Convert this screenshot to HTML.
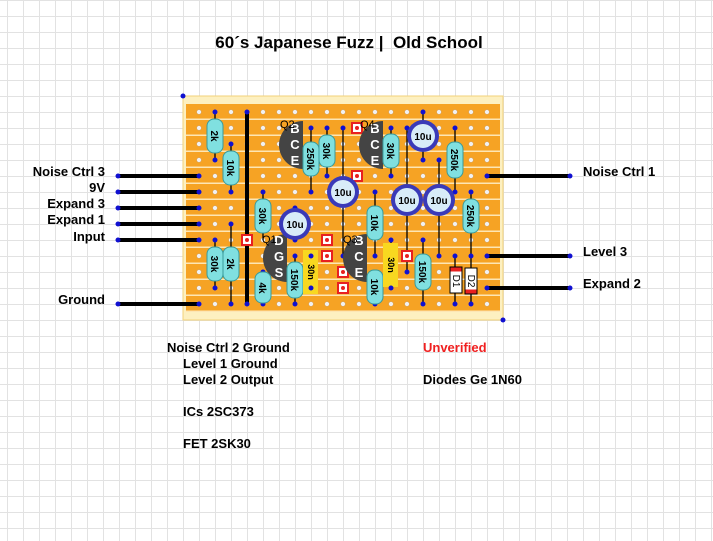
<!DOCTYPE html>
<html><head><meta charset="utf-8">
<style>
html,body{margin:0;padding:0;}
body{width:713px;height:541px;overflow:hidden;background-color:#fff;
background-image:linear-gradient(to right,#e2e2e2 1px,transparent 1px),linear-gradient(to bottom,#e2e2e2 1px,transparent 1px);
background-size:16px 16px;background-position:7px 0,0 0;font-family:"Liberation Sans",Arial,sans-serif;}
svg{position:absolute;left:0;top:0;}
</style></head><body>
<svg width="713" height="541" viewBox="0 0 713 541" xmlns="http://www.w3.org/2000/svg" font-family="Liberation Sans, Arial, sans-serif">
<defs>
<pattern id="strip" x="0" y="104" width="16" height="16" patternUnits="userSpaceOnUse">
<rect width="16" height="16" fill="#f6a324"/><rect y="14.5" width="16" height="2" fill="#fde6b4"/>
</pattern>
<pattern id="holes" x="191" y="104" width="16" height="16" patternUnits="userSpaceOnUse">
<circle cx="8" cy="8" r="2.3" fill="#f2f2f2" stroke="#c9a070" stroke-width="0.5"/>
</pattern>
</defs>
<text x="349" y="48" font-size="17" font-weight="bold" text-anchor="middle">60´s Japanese Fuzz |&#160; Old School</text>
<!-- board -->
<rect x="183" y="96" width="320" height="224" fill="#fdf0c0" stroke="#f2d27a" stroke-width="1"/>
<rect x="186" y="104" width="314" height="208" fill="url(#strip)"/>
<rect x="191" y="104" width="304" height="208" fill="url(#holes)"/>
<circle cx="183" cy="96" r="2.5" fill="#1010d0"/><circle cx="503" cy="320" r="2.5" fill="#1010d0"/>

<g font-size="13" font-weight="bold" fill="#000">
<text x="105" y="176" text-anchor="end">Noise Ctrl 3</text>
<text x="105" y="192" text-anchor="end">9V</text>
<text x="105" y="208" text-anchor="end">Expand 3</text>
<text x="105" y="224" text-anchor="end">Expand 1</text>
<text x="105" y="241" text-anchor="end">Input</text>
<text x="105" y="304" text-anchor="end">Ground</text>
<text x="583" y="176">Noise Ctrl 1</text>
<text x="583" y="256">Level 3</text>
<text x="583" y="288">Expand 2</text>
<text x="167" y="352">Noise Ctrl 2 Ground</text>
<text x="183" y="368">Level 1 Ground</text>
<text x="183" y="384">Level 2 Output</text>
<text x="183" y="416">ICs 2SC373</text>
<text x="183" y="448">FET 2SK30</text>
<text x="423" y="352" fill="#f02020">Unverified</text>
<text x="423" y="384">Diodes Ge 1N60</text>
</g>

<!-- external wires -->
<g stroke="#000" stroke-width="4">
<line x1="118" y1="176" x2="199" y2="176"/><line x1="118" y1="192" x2="199" y2="192"/>
<line x1="118" y1="208" x2="199" y2="208"/><line x1="118" y1="224" x2="199" y2="224"/>
<line x1="118" y1="240" x2="199" y2="240"/><line x1="118" y1="304" x2="199" y2="304"/>
<line x1="487" y1="176" x2="570" y2="176"/><line x1="487" y1="256" x2="570" y2="256"/>
<line x1="487" y1="288" x2="570" y2="288"/>
<line x1="247" y1="112" x2="247" y2="304"/>
</g>
<g fill="#1010d0">
<circle cx="118" cy="176" r="2.5"/><circle cx="118" cy="192" r="2.5"/><circle cx="118" cy="208" r="2.5"/><circle cx="118" cy="224" r="2.5"/><circle cx="118" cy="240" r="2.5"/><circle cx="118" cy="304" r="2.5"/>
<circle cx="570" cy="176" r="2.5"/><circle cx="570" cy="256" r="2.5"/><circle cx="570" cy="288" r="2.5"/>
</g>

<!-- thin wires (leads) -->
<g stroke="#000" stroke-width="1.3">
<line x1="215" y1="112" x2="215" y2="160"/><line x1="231" y1="144" x2="231" y2="192"/>
<line x1="215" y1="240" x2="215" y2="288"/><line x1="231" y1="224" x2="231" y2="304"/>
<line x1="263" y1="192" x2="263" y2="240"/><line x1="263" y1="272" x2="263" y2="304"/>
<line x1="295" y1="208" x2="295" y2="240"/><line x1="295" y1="256" x2="295" y2="304"/>
<line x1="311" y1="256" x2="311" y2="288"/>
<line x1="311" y1="128" x2="311" y2="192"/><line x1="327" y1="128" x2="327" y2="176"/>
<line x1="343" y1="128" x2="343" y2="256"/>
<line x1="375" y1="192" x2="375" y2="256"/><line x1="375" y1="272" x2="375" y2="304"/>
<line x1="391" y1="128" x2="391" y2="176"/><line x1="391" y1="240" x2="391" y2="288"/>
<line x1="407" y1="128" x2="407" y2="272"/><line x1="423" y1="112" x2="423" y2="160"/>
<line x1="423" y1="240" x2="423" y2="304"/><line x1="439" y1="160" x2="439" y2="256"/>
<line x1="455" y1="128" x2="455" y2="192"/><line x1="471" y1="192" x2="471" y2="256"/>
<line x1="455" y1="256" x2="455" y2="304"/><line x1="471" y1="256" x2="471" y2="304"/>
</g>
<g fill="#1010d0">
<circle cx="215" cy="112" r="2.5"/><circle cx="215" cy="160" r="2.5"/><circle cx="231" cy="144" r="2.5"/><circle cx="231" cy="192" r="2.5"/>
<circle cx="215" cy="240" r="2.5"/><circle cx="215" cy="288" r="2.5"/><circle cx="231" cy="224" r="2.5"/><circle cx="231" cy="304" r="2.5"/>
<circle cx="247" cy="112" r="2.5"/><circle cx="247" cy="304" r="2.5"/>
<circle cx="263" cy="192" r="2.5"/><circle cx="263" cy="272" r="2.5"/><circle cx="263" cy="304" r="2.5"/>
<circle cx="295" cy="208" r="2.5"/><circle cx="295" cy="240" r="2.5"/><circle cx="295" cy="256" r="2.5"/><circle cx="295" cy="304" r="2.5"/>
<circle cx="311" cy="128" r="2.5"/><circle cx="311" cy="192" r="2.5"/><circle cx="327" cy="128" r="2.5"/><circle cx="327" cy="176" r="2.5"/>
<circle cx="343" cy="128" r="2.5"/><circle cx="343" cy="256" r="2.5"/>
<circle cx="375" cy="192" r="2.5"/><circle cx="375" cy="256" r="2.5"/><circle cx="375" cy="272" r="2.5"/><circle cx="375" cy="304" r="2.5"/>
<circle cx="391" cy="128" r="2.5"/><circle cx="391" cy="176" r="2.5"/>
<circle cx="407" cy="128" r="2.5"/><circle cx="407" cy="272" r="2.5"/><circle cx="423" cy="112" r="2.5"/><circle cx="423" cy="160" r="2.5"/>
<circle cx="423" cy="240" r="2.5"/><circle cx="423" cy="304" r="2.5"/><circle cx="439" cy="160" r="2.5"/><circle cx="439" cy="256" r="2.5"/>
<circle cx="455" cy="128" r="2.5"/><circle cx="455" cy="192" r="2.5"/><circle cx="471" cy="192" r="2.5"/><circle cx="471" cy="256" r="2.5"/>
<circle cx="455" cy="256" r="2.5"/><circle cx="455" cy="304" r="2.5"/><circle cx="471" cy="304" r="2.5"/>
<circle cx="199" cy="176" r="2.5"/><circle cx="199" cy="192" r="2.5"/><circle cx="199" cy="208" r="2.5"/><circle cx="199" cy="224" r="2.5"/><circle cx="199" cy="240" r="2.5"/><circle cx="199" cy="304" r="2.5"/>
<circle cx="487" cy="176" r="2.5"/><circle cx="487" cy="256" r="2.5"/><circle cx="487" cy="288" r="2.5"/>
</g>

<!-- track cuts -->
<g fill="#fff" stroke="#e82020" stroke-width="2">
<rect x="242" y="235" width="10" height="10"/><rect x="322" y="235" width="10" height="10"/><rect x="322" y="251" width="10" height="10"/>
<rect x="338" y="267" width="10" height="10"/><rect x="338" y="283" width="10" height="10"/>
<rect x="352" y="123" width="10" height="10"/><rect x="352" y="171" width="10" height="10"/><rect x="402" y="251" width="10" height="10"/>
</g>
<g fill="#e82020">
<circle cx="247" cy="240" r="2"/><circle cx="327" cy="240" r="2"/><circle cx="327" cy="256" r="2"/><circle cx="343" cy="272" r="2"/><circle cx="343" cy="288" r="2"/>
<circle cx="357" cy="128" r="2"/><circle cx="357" cy="176" r="2"/><circle cx="407" cy="256" r="2"/>
</g>

<!-- transistors -->
<g fill="#444">
<path d="M303,121 A24,24 0 0 0 303,169 Z"/>
<path d="M383,121 A24,24 0 0 0 383,169 Z"/>
<path d="M287,234 A24,24 0 0 0 287,282 Z"/>
<path d="M367,234 A24,24 0 0 0 367,282 Z"/>
</g>
<g font-size="13" font-weight="bold" fill="#fff" text-anchor="middle">
<text x="295" y="133">B</text><text x="295" y="149">C</text><text x="295" y="165">E</text>
<text x="375" y="133">B</text><text x="375" y="149">C</text><text x="375" y="165">E</text>
<text x="279" y="245">D</text><text x="279" y="261">G</text><text x="279" y="277">S</text>
<text x="359" y="245">B</text><text x="359" y="261">C</text><text x="359" y="277">E</text>
</g>
<g font-size="11" fill="#000">
<text x="280" y="128">Q2</text><text x="360" y="128">Q4</text><text x="262" y="243">Q1</text><text x="343" y="243">Q3</text>
</g>

<!-- resistors -->
<g fill="#80e0e0" stroke="#3a9a9a" stroke-width="1">
<rect x="207" y="119" width="16" height="34" rx="7"/>
<rect x="223" y="151" width="16" height="34" rx="7"/>
<rect x="207" y="247" width="16" height="34" rx="7"/>
<rect x="223" y="247" width="16" height="34" rx="7"/>
<rect x="255" y="199" width="16" height="34" rx="7"/>
<rect x="255" y="272" width="16" height="31" rx="7"/>
<rect x="287" y="262" width="16" height="36" rx="7"/>
<rect x="303" y="142" width="16" height="34" rx="7"/>
<rect x="319" y="135" width="16" height="32" rx="7"/>
<rect x="383" y="134" width="16" height="34" rx="7"/>
<rect x="367" y="206" width="16" height="34" rx="7"/>
<rect x="367" y="270" width="16" height="34" rx="7"/>
<rect x="415" y="254" width="16" height="36" rx="7"/>
<rect x="447" y="142" width="16" height="36" rx="7"/>
<rect x="463" y="199" width="16" height="34" rx="7"/>
</g>
<g font-size="10" font-weight="bold" fill="#000" text-anchor="middle">
<text transform="translate(211,136) rotate(90)">2k</text>
<text transform="translate(227,168) rotate(90)">10k</text>
<text transform="translate(211,264) rotate(90)">30k</text>
<text transform="translate(227,264) rotate(90)">2k</text>
<text transform="translate(259,216) rotate(90)">30k</text>
<text transform="translate(259,288) rotate(90)">4k</text>
<text transform="translate(291,280) rotate(90)">150k</text>
<text transform="translate(307,159) rotate(90)">250k</text>
<text transform="translate(323,151) rotate(90)">30k</text>
<text transform="translate(387,151) rotate(90)">30k</text>
<text transform="translate(371,223) rotate(90)">10k</text>
<text transform="translate(371,287) rotate(90)">10k</text>
<text transform="translate(419,272) rotate(90)">150k</text>
<text transform="translate(451,160) rotate(90)">250k</text>
<text transform="translate(467,216) rotate(90)">250k</text>
</g>

<!-- film caps -->
<rect x="303" y="250" width="15" height="44" fill="#f8d820"/>
<rect x="383" y="243" width="15" height="44" fill="#f8d820"/>
<g font-size="9" font-weight="bold" text-anchor="middle">
<text transform="translate(308,272) rotate(90)">30n</text>
<text transform="translate(388,265) rotate(90)">30n</text>
</g>
<g fill="#1010d0"><circle cx="311" cy="256" r="2.5"/><circle cx="311" cy="288" r="2.5"/><circle cx="391" cy="240" r="2.5"/><circle cx="391" cy="288" r="2.5"/></g>

<!-- electrolytics -->
<g>
<circle cx="295" cy="224" r="16" fill="#3a3ab8"/><circle cx="295" cy="224" r="12" fill="#d8ecf8"/>
<circle cx="343" cy="192" r="16" fill="#3a3ab8"/><circle cx="343" cy="192" r="12" fill="#d8ecf8"/>
<circle cx="423" cy="136" r="16" fill="#3a3ab8"/><circle cx="423" cy="136" r="12" fill="#d8ecf8"/>
<circle cx="407" cy="200" r="16" fill="#3a3ab8"/><circle cx="407" cy="200" r="12" fill="#d8ecf8"/>
<circle cx="439" cy="200" r="16" fill="#3a3ab8"/><circle cx="439" cy="200" r="12" fill="#d8ecf8"/>
</g>
<g font-size="10" font-weight="bold" text-anchor="middle">
<text x="295" y="228">10u</text><text x="343" y="196">10u</text><text x="423" y="140">10u</text><text x="407" y="204">10u</text><text x="439" y="204">10u</text>
</g>

<!-- diodes -->
<rect x="450" y="267" width="12" height="26" fill="#fff" stroke="#000"/><rect x="450.5" y="267.5" width="11" height="4" fill="#e82020"/>
<rect x="465" y="268" width="12" height="26" fill="#fff" stroke="#000"/><rect x="465.5" y="289.5" width="11" height="4" fill="#e82020"/>
<g font-size="10" text-anchor="middle">
<text transform="translate(453,281) rotate(90)">D1</text>
<text transform="translate(468,281) rotate(90)">D2</text>
</g>
</svg>
</body></html>
